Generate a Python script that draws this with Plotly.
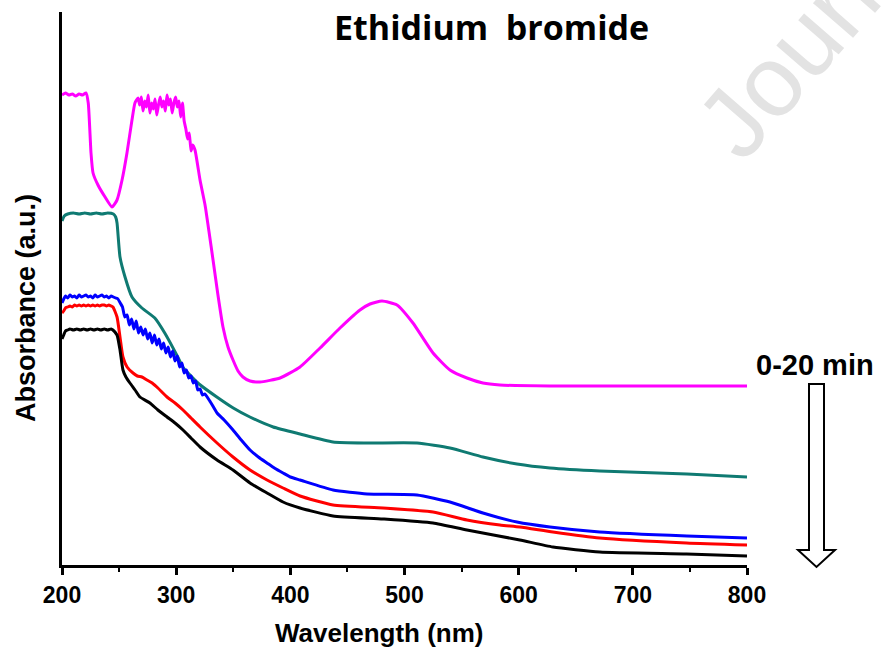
import plotly.graph_objects as go

# UV-vis absorption spectra of ethidium bromide, recorded over 0-20 min
# wavelength in nm, absorbance in arbitrary units

wl_0 = [200, 203, 206, 209, 212, 215, 218, 221, 223, 225.4, 227.2, 231.5, 237.7, 243.8,
        248.2, 252.6, 256.9, 261.3, 263.9, 266.6,
        268, 269.5, 271, 272.5, 274, 275.5, 277, 278.5, 280, 281.5, 283, 284.5, 286,
        287.5, 289, 290.5, 292, 293.5, 295, 296.5, 298, 299.5, 301, 302.5, 304, 305.5,
        307, 308.5, 310, 311.5, 313, 314.5, 316.5, 320.9, 325.3, 328.8, 332.3, 336.6,
        341, 345.4, 349.8, 354.2, 358.5, 364.7, 373.4, 391, 408.5, 426, 443.5, 461,
        469.8, 480.3, 493.4, 507.4, 525, 539.8, 554.7, 568.7, 583.6, 627, 700, 800]
abs_0 = [2.35, 2.36, 2.35, 2.355, 2.345, 2.355, 2.35, 2.36, 2.31, 2.06, 1.96, 1.90, 1.84, 1.79,
         1.825, 1.925, 2.06, 2.225, 2.31, 2.335,
         2.30, 2.34, 2.27, 2.32, 2.29, 2.35, 2.26, 2.31, 2.28, 2.33, 2.25, 2.30, 2.34,
         2.29, 2.32, 2.27, 2.35, 2.30, 2.33, 2.26, 2.31, 2.34, 2.29, 2.32, 2.24, 2.31,
         2.22, 2.18, 2.13, 2.16, 2.07, 2.10, 2.075, 1.925, 1.80, 1.665, 1.525, 1.35,
         1.19, 1.09, 1.025, 0.97, 0.94, 0.92, 0.915, 0.935, 0.99, 1.085, 1.185, 1.275,
         1.305, 1.32, 1.30, 1.21, 1.06, 0.975, 0.935, 0.91, 0.90, 0.895, 0.895, 0.895]

wl_1 = [200, 202, 205, 210, 215, 220, 225, 230, 235, 240, 245, 247, 248.2, 250.8, 255.2,
        261.3, 270, 281.3, 290, 301.4, 305.8, 320, 335.6, 350, 364.6, 385, 408.5, 437.4,
        467.2, 511, 539.8, 568.7, 598.5, 627.4, 671, 747.4, 800]
abs_1 = [1.72, 1.745, 1.755, 1.76, 1.755, 1.76, 1.755, 1.76, 1.755, 1.76, 1.755, 1.74, 1.71,
         1.54, 1.44, 1.34, 1.285, 1.235, 1.16, 1.04, 0.99, 0.905, 0.84, 0.785, 0.74, 0.69,
         0.655, 0.615, 0.61, 0.61, 0.585, 0.54, 0.505, 0.485, 0.47, 0.455, 0.44]

wl_2 = [200, 201.5, 203, 205, 207, 209, 211, 213, 215, 217, 219, 221, 223, 225, 227, 229,
        231, 233, 235, 237, 239, 241, 243, 245, 247, 249,
        251, 253, 255, 257, 259, 261, 263, 265, 267, 269, 271, 273, 275, 277, 279, 281,
        283, 285, 287, 289, 291, 293, 295, 297, 299, 301, 303, 305, 307, 309, 311, 313,
        315, 317, 319, 321, 323, 325, 330, 335.8, 342, 349.8, 357, 364.7, 372, 379.6,
        386, 393.6, 400, 408.5, 437.4, 467.2, 511, 539.8, 568.7, 598.5, 627.4, 671,
        747.4, 800]
abs_2 = [1.31, 1.33, 1.345, 1.335, 1.35, 1.34, 1.345, 1.335, 1.35, 1.34, 1.345, 1.35, 1.34,
         1.345, 1.335, 1.35, 1.34, 1.345, 1.35, 1.34, 1.345, 1.335, 1.345, 1.34, 1.335, 1.33,
         1.31, 1.29, 1.24, 1.25, 1.20, 1.23, 1.18, 1.22, 1.16, 1.19, 1.15, 1.18, 1.13, 1.16,
         1.11, 1.15, 1.10, 1.13, 1.08, 1.11, 1.06, 1.09, 1.04, 1.07, 1.02, 1.045, 0.99, 1.01,
         0.96, 0.975, 0.935, 0.945, 0.91, 0.92, 0.875, 0.88, 0.85, 0.855, 0.815, 0.76, 0.725,
         0.675, 0.625, 0.575, 0.54, 0.51, 0.485, 0.46, 0.44, 0.425, 0.375, 0.355, 0.35,
         0.315, 0.26, 0.215, 0.19, 0.165, 0.145, 0.135]

wl_3 = [200, 201.5, 203, 205, 207, 209, 211, 213, 215, 217, 219, 221, 223, 225, 227, 229,
        231, 233, 235, 237, 239, 241, 243, 244.6, 248.2, 250.8, 253.4, 257, 262.2, 266,
        270, 274.4, 279, 284, 292, 299, 306, 313, 320.9, 335.8, 349.8, 364.7, 379.6, 393.6,
        408.5, 437.4, 481.2, 525, 554.7, 583.6, 601, 630, 671, 747, 800]
abs_3 = [1.26, 1.27, 1.285, 1.29, 1.295, 1.29, 1.30, 1.295, 1.30, 1.295, 1.30, 1.295, 1.30,
         1.295, 1.30, 1.295, 1.30, 1.295, 1.30, 1.30, 1.295, 1.30, 1.295, 1.29, 1.24, 1.14,
         1.04, 0.99, 0.96, 0.945, 0.94, 0.925, 0.91, 0.885, 0.84, 0.81, 0.775, 0.735, 0.69,
         0.61, 0.54, 0.475, 0.425, 0.385, 0.345, 0.30, 0.285, 0.265, 0.225, 0.20, 0.19,
         0.165, 0.135, 0.11, 0.10]

wl_4 = [200, 201.5, 203, 205, 207, 210, 213, 216, 219, 222, 225, 228, 231, 234, 237, 240,
        243, 244.6, 248.2, 250.8, 253.4, 256, 259.5, 264, 268.3, 277, 284, 292, 299, 306,
        313, 320.9, 335.8, 349.8, 364.7, 379.6, 393.6, 408.5, 437.4, 481.2, 525, 554.7,
        601, 630, 671, 747, 800]
abs_4 = [1.13, 1.15, 1.17, 1.175, 1.18, 1.175, 1.18, 1.175, 1.18, 1.175, 1.18, 1.175, 1.18,
         1.175, 1.18, 1.175, 1.18, 1.175, 1.15, 1.075, 0.975, 0.94, 0.91, 0.875, 0.84, 0.81,
         0.775, 0.74, 0.71, 0.675, 0.635, 0.59, 0.525, 0.475, 0.41, 0.36, 0.315, 0.285,
         0.245, 0.23, 0.21, 0.175, 0.125, 0.09, 0.065, 0.055, 0.045]

series = [
    (wl_0, abs_0, "#ff00ff"),
    (wl_1, abs_1, "#0f7a72"),
    (wl_2, abs_2, "#0000ff"),
    (wl_3, abs_3, "#ff0000"),
    (wl_4, abs_4, "#000000"),
]

x_ticks = [200, 300, 400, 500, 600, 700, 800]

fig = go.Figure()
for wl, ab, col in series:
    fig.add_trace(go.Scatter(x=wl, y=ab, mode="lines",
                             line=dict(color=col, width=3, shape="spline", smoothing=0.5),
                             showlegend=False, hoverinfo="skip"))

W, H = 883, 652
L, R, T, B = 62, 136, 12, 87
pw, ph = W - L - R, H - T - B


def px(xp):
    return (xp - L) / pw


def py(yp):
    return (H - B - yp) / ph


bold = "Liberation Sans"

fig.update_layout(
    width=W, height=H,
    margin=dict(l=L, r=R, t=T, b=B, pad=0),
    paper_bgcolor="white", plot_bgcolor="white",
    xaxis=dict(range=[200, 800], tickvals=x_ticks, ticktext=[str(v) for v in x_ticks],
               showgrid=False, zeroline=False, showline=True, linecolor="black",
               linewidth=3, ticks="outside", ticklen=7, tickwidth=2.5, tickcolor="black",
               minor=dict(dtick=50, ticks="outside", ticklen=4, tickwidth=2,
                          tickcolor="black", showgrid=False),
               tickfont=dict(family=bold, size=23, color="black", weight="bold")),
    yaxis=dict(range=[0, 2.765], showgrid=False, zeroline=False, showline=True,
               linecolor="black", linewidth=3, ticks="", showticklabels=False),
)

# light diagonal watermark
fig.add_annotation(text="Journal", xref="paper", yref="paper", x=px(824), y=py(18),
                   xanchor="center", yanchor="middle", showarrow=False, textangle=-49,
                   font=dict(family="Liberation Sans", size=100, color="#e3e3e3"))

fig.add_annotation(text="Ethidium  bromide", xref="paper", yref="paper",
                   x=px(491), y=py(27), xanchor="center", yanchor="middle",
                   showarrow=False,
                   font=dict(family="Open Sans", size=34, color="black", weight="bold"))

fig.add_annotation(text="Wavelength (nm)", xref="paper", yref="paper",
                   x=px(379), y=py(633), xanchor="center", yanchor="middle",
                   showarrow=False,
                   font=dict(family=bold, size=26, color="black", weight="bold"))

fig.add_annotation(text="Absorbance (a.u.)", xref="paper", yref="paper",
                   x=px(26), y=py(308), xanchor="center", yanchor="middle",
                   showarrow=False, textangle=-90,
                   font=dict(family=bold, size=27, color="black", weight="bold"))

fig.add_annotation(text="0-20 min", xref="paper", yref="paper",
                   x=px(815), y=py(365), xanchor="center", yanchor="middle",
                   showarrow=False,
                   font=dict(family=bold, size=29, color="black", weight="bold"))

# hollow downward arrow next to the time label
pts = [(809, 384), (824, 384), (824, 550), (835, 550), (816.5, 567), (798, 550), (809, 550)]
path = "M " + " L ".join(f"{px(a):.5f},{py(b):.5f}" for a, b in pts) + " Z"
fig.add_shape(type="path", xref="paper", yref="paper", path=path,
              line=dict(color="black", width=2), fillcolor="white")

fig.write_html("out.html")
